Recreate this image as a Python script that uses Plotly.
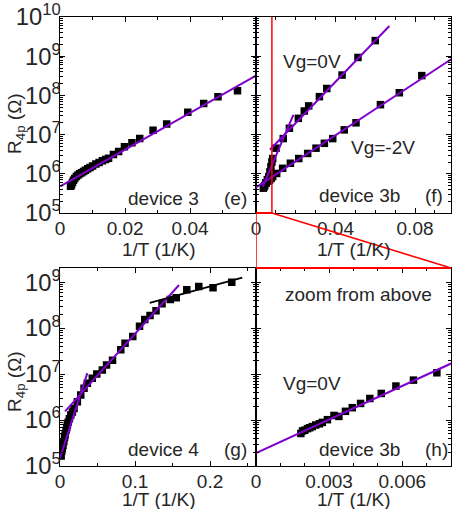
import plotly.graph_objects as go

W, H = 452, 509

# ---------------- data ----------------
# panel (e) device 3
e_x = [0.0032, 0.0035, 0.0038, 0.0041, 0.0045, 0.0050, 0.0055, 0.0060, 0.0066, 0.0072,
       0.0078, 0.0085, 0.0092, 0.0100, 0.0110, 0.0120, 0.0130, 0.0140, 0.0149, 0.0164,
       0.0180, 0.0198, 0.0221, 0.0245, 0.0286, 0.0328, 0.0393, 0.0442, 0.0486, 0.0546]
e_r = [4.8e5, 5.2e5, 6.0e5, 6.8e5, 7.6e5, 8.5e5, 9.3e5, 1.0e6, 1.07e6, 1.15e6,
       1.23e6, 1.35e6, 1.45e6, 1.58e6, 1.78e6, 1.95e6, 2.14e6, 2.3e6, 2.5e6, 3.1e6,
       3.7e6, 4.9e6, 6.2e6, 7.9e6, 1.29e7, 1.86e7, 3.7e7, 6.2e7, 9.3e7, 1.32e8]
e_fit_x = [0.0, 0.0603]
e_fit_r = [4.8e5, 3.2e8]

# panel (f) device 3b
f0_x = [0.0037, 0.0044, 0.0050, 0.0057, 0.0064, 0.0070, 0.0075, 0.0080, 0.0084, 0.0101,
        0.0137, 0.0168, 0.0213, 0.0243, 0.0265, 0.0319, 0.0356, 0.0433, 0.0513, 0.0600]
f0_r = [4.3e5, 5.0e5, 5.8e5, 7.1e5, 8.5e5, 1.12e6, 1.51e6, 2.0e6, 2.45e6, 4.5e6,
        7.9e6, 1.45e7, 2.6e7, 4.0e7, 5.4e7, 9.3e7, 1.5e8, 3.3e8, 9.3e8, 2.5e9]
f2_x = [0.0040, 0.0050, 0.0060, 0.0068, 0.0076, 0.0084, 0.0104, 0.0134, 0.0173, 0.0215,
        0.0260, 0.0302, 0.0344, 0.0386, 0.0444, 0.0503, 0.0626, 0.0721, 0.0834]
f2_r = [4.6e5, 5.8e5, 6.5e5, 6.9e5, 7.6e5, 8.5e5, 1.02e6, 1.38e6, 1.86e6, 2.45e6,
        3.3e6, 4.5e6, 6.0e6, 7.9e6, 1.32e7, 2.0e7, 5.8e7, 1.17e8, 3.2e8]
f0_fit_x = [0.0070, 0.0671]
f0_fit_r = [4.1e6, 5.9e9]
f0_steep_x = [0.0034, 0.0188]
f0_steep_r = [4.7e5, 3.2e7]
f2_fit_x = [0.0, 0.0990]
f2_fit_r = [4.5e5, 8.9e8]

# panel (g) device 4
g_x = [0.0015, 0.0023, 0.0030, 0.0040, 0.0050, 0.0060, 0.0067, 0.0080, 0.0090, 0.0098,
       0.0110, 0.0125, 0.0143, 0.0165, 0.0187, 0.0231, 0.0276, 0.0320, 0.0364, 0.0430,
       0.0490, 0.0564, 0.0620, 0.0700, 0.0810, 0.0867, 0.0970, 0.1060, 0.1130, 0.1200,
       0.1280, 0.1360, 0.1470, 0.1550, 0.1690, 0.1850, 0.2040, 0.2290]
g_r = [1.66e5, 2.1e5, 2.4e5, 2.8e5, 3.4e5, 4.1e5, 4.7e5, 5.9e5, 6.9e5, 7.8e5,
       9.1e5, 1.07e6, 1.29e6, 1.5e6, 1.78e6, 2.5e6, 3.5e6, 4.9e6, 6.3e6, 8.1e6,
       1.0e7, 1.23e7, 1.58e7, 2.0e7, 3.4e7, 4.7e7, 6.6e7, 1.1e8, 1.55e8, 1.9e8,
       2.4e8, 3.4e8, 4.2e8, 4.6e8, 6.9e8, 8.1e8, 7.6e8, 1.0e9]
g_fit1_x = [0.0, 0.0364]
g_fit1_r = [1.5e5, 1.05e7]
g_fit2_x = [0.0067, 0.1587]
g_fit2_r = [1.55e6, 8.7e8]
g_fit3_x = [0.1196, 0.2430]
g_fit3_r = [3.55e8, 1.26e9]

# panel (h) zoom of device 3b, Vg=0V
h_x = [0.00184, 0.00191, 0.00200, 0.00211, 0.00220, 0.00231, 0.00245, 0.00260, 0.00272, 0.00293,
       0.00320, 0.00340, 0.00367, 0.00395, 0.00429, 0.00467, 0.00514, 0.00574, 0.00646, 0.00742]
h_r = [5.1e5, 5.8e5, 6.0e5, 6.5e5, 6.8e5, 7.2e5, 7.8e5, 8.3e5, 8.9e5, 1.02e6,
       1.26e6, 1.2e6, 1.55e6, 1.86e6, 2.3e6, 2.95e6, 3.8e6, 5.5e6, 7.4e6, 1.07e7]
h_fit_x = [0.0, 0.0080]
h_fit_r = [1.9e5, 1.7e7]

# tick labels
e_ticks = [0, 0.02, 0.04]
e_ticktext = ["0", "0.02", "0.04"]
f_ticks = [0, 0.04, 0.08]
f_ticktext = ["0", "0.04", "0.08"]
g_ticks = [0, 0.1, 0.2]
g_ticktext = ["0", "0.1", "0.2"]
h_ticks = [0, 0.003, 0.006]
h_ticktext = ["0", "0.003", "0.006"]

# ---------------- layout helpers ----------------
def px(x):
    return x / W


def py(y):
    return 1 - y / H


FONT = "Liberation Sans, Arial, sans-serif"
TXT = "#262626"
PURPLE = "#8000CC"

e_dom_x = [px(59.5), px(256)]
f_dom_x = [px(256), px(451)]
top_dom_y = [py(213), py(17)]
bot_dom_y = [py(466), py(268)]

e_rng = [-0.0002, 0.0603]
f_rng = [0.0, 0.0981]
g_rng = [-0.0007, 0.2613]
h_rng = [0.0, 0.0080]

fig = go.Figure()


def add_pts(x, y, xa, ya):
    fig.add_trace(go.Scatter(x=x, y=y, mode="markers", xaxis=xa, yaxis=ya,
                             marker=dict(symbol="square", size=7.5, color="black"),
                             showlegend=False, hoverinfo="skip"))


def add_line(x, y, xa, ya, color=PURPLE):
    fig.add_trace(go.Scatter(x=x, y=y, mode="lines", xaxis=xa, yaxis=ya,
                             line=dict(color=color, width=2),
                             showlegend=False, hoverinfo="skip"))


add_pts(e_x, e_r, "x", "y")
add_line(e_fit_x, e_fit_r, "x", "y")

add_pts(f0_x, f0_r, "x2", "y2")
add_pts(f2_x, f2_r, "x2", "y2")
add_line(f0_fit_x, f0_fit_r, "x2", "y2")
add_line(f0_steep_x, f0_steep_r, "x2", "y2")
add_line(f2_fit_x, f2_fit_r, "x2", "y2")

add_pts(g_x, g_r, "x3", "y3")
add_line(g_fit1_x, g_fit1_r, "x3", "y3")
add_line(g_fit2_x, g_fit2_r, "x3", "y3")
add_line(g_fit3_x, g_fit3_r, "x3", "y3", color="black")

add_pts(h_x, h_r, "x4", "y4")
add_line(h_fit_x, h_fit_r, "x4", "y4")

TICKFONT = dict(family=FONT, size=19, color=TXT)


def xax(domain, rng, anchor, tickvals, ticktext, minor_dtick):
    return dict(domain=domain, range=rng, anchor=anchor, automargin=False,
                tickmode="array", tickvals=tickvals, ticktext=ticktext,
                ticklabelstandoff=-2,
                ticks="inside", ticklen=5, tickcolor="black", tickwidth=1,
                showline=True, linecolor="black", linewidth=1, mirror="ticks",
                showgrid=False, zeroline=False, tickfont=TICKFONT,
                minor=dict(ticks="inside", ticklen=3, dtick=minor_dtick, tick0=0,
                           tickcolor="black", showgrid=False))


def yax(domain, rng, anchor, labels):
    return dict(domain=domain, range=rng, anchor=anchor, type="log", automargin=False,
                dtick=1, exponentformat="power", showticklabels=labels,
                ticklabelstandoff=-6,
                ticks="inside", ticklen=5, tickcolor="black", tickwidth=1,
                showline=True, linecolor="black", linewidth=1, mirror="ticks",
                showgrid=False, zeroline=False, tickfont=TICKFONT,
                minor=dict(ticks="inside", ticklen=3, dtick="D1",
                           tickcolor="black", showgrid=False))


fig.update_layout(
    width=W, height=H,
    autosize=False,
    margin=dict(l=0, r=0, t=0, b=0, pad=0, autoexpand=False),
    paper_bgcolor="white", plot_bgcolor="white",
    showlegend=False,
    font=dict(family=FONT, size=19, color=TXT),
    xaxis=xax(e_dom_x, e_rng, "y", e_ticks, e_ticktext, 0.01),
    yaxis=yax(top_dom_y, [5, 10], "x", True),
    xaxis2=xax(f_dom_x, f_rng, "y2", f_ticks, f_ticktext, 0.01),
    yaxis2=yax(top_dom_y, [5, 10], "x2", False),
    xaxis3=xax(e_dom_x, g_rng, "y3", g_ticks, g_ticktext, 0.05),
    yaxis3=yax(bot_dom_y, [5, 9.31], "x3", True),
    xaxis4=xax(f_dom_x, h_rng, "y4", h_ticks, h_ticktext, 0.001),
    yaxis4=yax(bot_dom_y, [5, 9.31], "x4", False),
)

# zoom indicator (red)
RED = dict(color="#FF0000", width=1.5)
zoom_end = h_rng[1]
zoom_px = f_dom_x[0] + (zoom_end - f_rng[0]) / (f_rng[1] - f_rng[0]) * (f_dom_x[1] - f_dom_x[0])
fig.add_shape(type="line", xref="x2", yref="y2 domain", x0=zoom_end, x1=zoom_end, y0=0, y1=1, line=RED)
fig.add_shape(type="line", xref="x2", yref="y2 domain", x0=0, x1=zoom_end, y0=0, y1=0,
              line=dict(color="#FF0000", width=2))
fig.add_shape(type="line", xref="x2", yref="paper", x0=0, x1=0, y0=top_dom_y[0], y1=bot_dom_y[1], line=RED)
fig.add_shape(type="line", xref="paper", yref="paper", x0=zoom_px, x1=f_dom_x[1],
              y0=top_dom_y[0], y1=bot_dom_y[1], line=RED)
fig.add_shape(type="line", xref="x4", yref="y4 domain", x0=h_rng[0], x1=h_rng[1], y0=1, y1=1,
              line=dict(color="#FF0000", width=2))

# text labels
def label(text, x, y, angle=0):
    fig.add_annotation(text=text, x=px(x), y=py(y), xref="paper", yref="paper",
                       xanchor="center", yanchor="middle", showarrow=False, textangle=angle,
                       font=dict(family=FONT, size=19, color=TXT))


label("device 3", 163, 198)
label("(e)", 235, 198)
label("Vg=0V", 311.5, 62)
label("Vg=-2V", 382.5, 147)
label("device 3b", 359, 196)
label("(f)", 434, 196)
label("device 4", 163, 449)
label("(g)", 235, 449)
label("zoom from above", 358, 294)
label("Vg=0V", 311.5, 383)
label("device 3b", 359, 449)
label("(h)", 436, 449)

# axis titles
for xc in (159, 354):
    label("1/T (1/K)", xc, 249)
    label("1/T (1/K)", xc, 499.5)
for yc in (124, 382):
    label("R<sub>4p</sub> (Ω)", 16, yc, angle=-90)

fig.write_html("out.html", config={"responsive": False, "displayModeBar": False},
               post_script="document.body.style.margin='0';document.body.style.overflow='hidden';")
